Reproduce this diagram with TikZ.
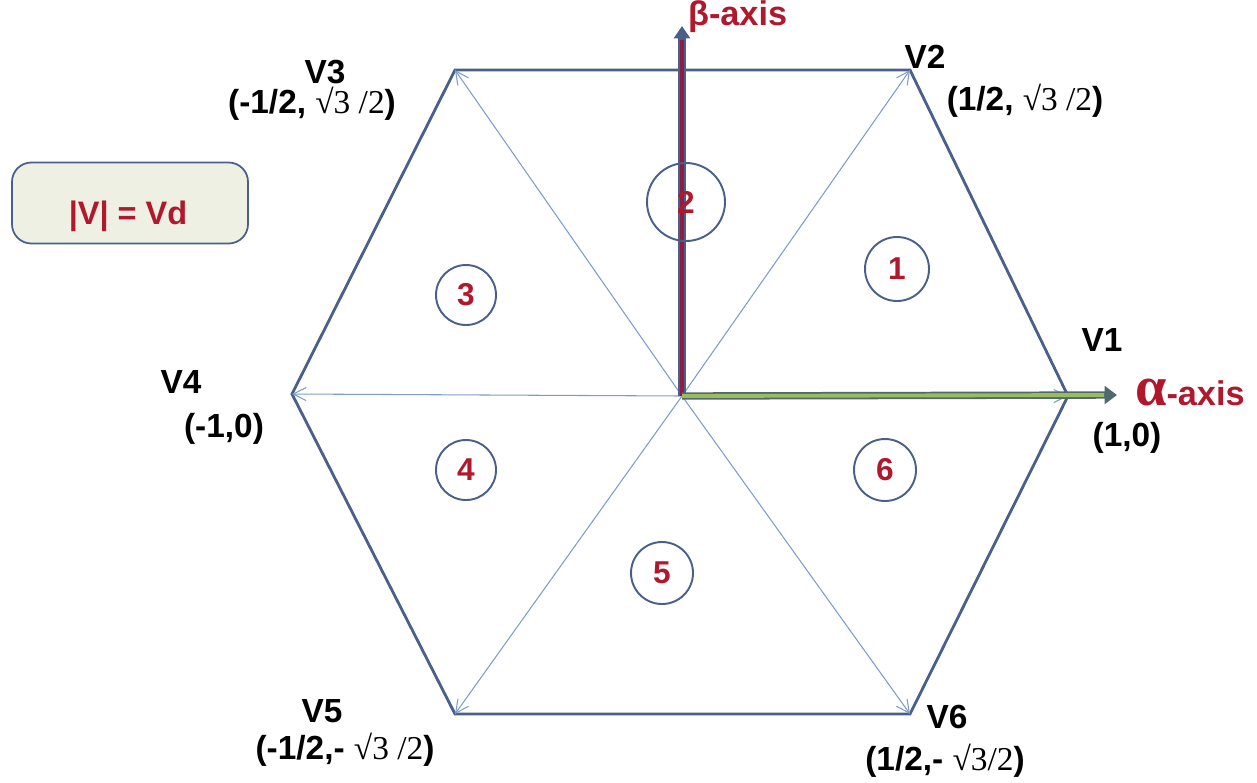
\documentclass[tikz,border=0pt]{standalone}
\usepackage{fontspec}
\setmainfont{Liberation Sans}
\newfontfamily\rootfont{Liberation Serif}
\usetikzlibrary{arrows.meta,positioning,calc}
\definecolor{HexBlue}{HTML}{4A6088}
\definecolor{SpokeBlue}{HTML}{7E9CCB}
\definecolor{LabelRed}{HTML}{B0182E}
\definecolor{BetaRed}{HTML}{8E1D45}
\definecolor{AlphaGreen}{HTML}{9CBB5A}
\definecolor{AlphaEdge}{HTML}{4F6A6E}
\definecolor{BoxFill}{HTML}{EDF0E3}
\tikzset{
  hex edge/.style={draw=HexBlue,line width=1.6pt,line join=miter},
  spoke arrow/.style={-{Straight Barb[length=2.6mm,width=2.6mm]},draw=SpokeBlue,line width=0.6pt},
  sector node/.style={circle,draw=HexBlue,line width=1.1pt,inner sep=0pt,
    font=\fontsize{18}{20}\selectfont\bfseries,text=LabelRed},
  vec name/.style={font=\fontsize{19}{21}\selectfont\bfseries,inner sep=1pt},
  vec coord/.style={font=\fontsize{19}{21}\selectfont,inner sep=1pt},
  axis label/.style={font=\fontsize{19.5}{21}\selectfont\bfseries,text=LabelRed,inner sep=1pt}
}
\newcommand{\rt}[1]{{\rootfont\mdseries #1}}

\begin{document}
\begin{tikzpicture}[x=0.02cm,y=-0.02cm]
  \useasboundingbox (0,0) rectangle (1257,782);
  % hexagon corners
  \coordinate (O)  at (682,396);
  \coordinate (V1) at (1068,396);
  \coordinate (V2) at (910,70);
  \coordinate (V3) at (455,70);
  \coordinate (V4) at (292,394);
  \coordinate (V5) at (455,714);
  \coordinate (V6) at (910,714);
  \draw[hex edge] (V1) -- (V2) -- (V3) -- (V4) -- (V5) -- (V6) -- cycle;
  \foreach \i in {1,...,6}{
    \draw[spoke arrow] (O) -- (V\i);
  }
  % axes
  \coordinate (btip) at (682,26);
  \coordinate (bend) at (682,40);
  \coordinate (atip) at (1117,395);
  \coordinate (aend) at (1104,395);
  \draw[draw=HexBlue,line width=4pt,-{Triangle[length=7pt,width=9pt]}] (O) -- (btip);
  \draw[draw=BetaRed,line width=2pt] (O) -- (bend);
  \draw[draw=AlphaEdge,line width=4.2pt,-{Triangle[length=7pt,width=10pt]}] (O) -- (atip);
  \draw[draw=AlphaGreen,line width=2.2pt] (O) -- (aend);
  \node[axis label,anchor=west] (blabel) at (686,17) {β-axis};
  \node[axis label,anchor=base west] (alabel) at (1133,405)
    {{\rootfont\fontsize{32}{32}\selectfont α}-axis};
  % sectors
  \foreach \name/\x/\y/\d in {1/897/269/64,2/686/202/78,3/466/295/60,4/466/470/60,5/662/573/62,6/885/470/62}{
    \node[sector node,minimum size=\d*0.02cm] (s\name) at (\x,\y) {\name};
  }
  % vector labels
  \node[vec name] (n1) at (1102,340) {V1};
  \node[vec coord] (c1) at (1127,438) {\bfseries (1,0)};
  \node[vec name] (n2) at (925,57) {V2};
  \node[vec coord] (c2) at (1025,101) {\bfseries (1/2, \rt{√3 /2})};
  \node[vec name] (n3) at (325,72) {V3};
  \node[vec coord] (c3) at (312,104) {\bfseries (-1/2, \rt{√3 /2})};
  \node[vec name] (n4) at (181,382) {V4};
  \node[vec coord] (c4) at (224,429) {\bfseries (-1,0)};
  \node[vec name] (n5) at (322,711) {V5};
  \node[vec coord] (c5) at (345,750) {\bfseries (-1/2,- \rt{√3 /2})};
  \node[vec name] (n6) at (947,717) {V6};
  \node[vec coord] (c6) at (945,761) {\bfseries (1/2,- \rt{√3/2})};
  % magnitude box
  \node[draw=HexBlue,fill=BoxFill,line width=1pt,rounded corners=11pt,
    minimum width=236*0.02cm,minimum height=81*0.02cm,
    font=\fontsize{18.5}{20}\selectfont\bfseries,text=LabelRed] (mag) at (130,203) {};
  \node[font=\fontsize{18.5}{20}\selectfont\bfseries,text=LabelRed] (magtext) at (128,216) {|V| = Vd};
\end{tikzpicture}
\end{document}
